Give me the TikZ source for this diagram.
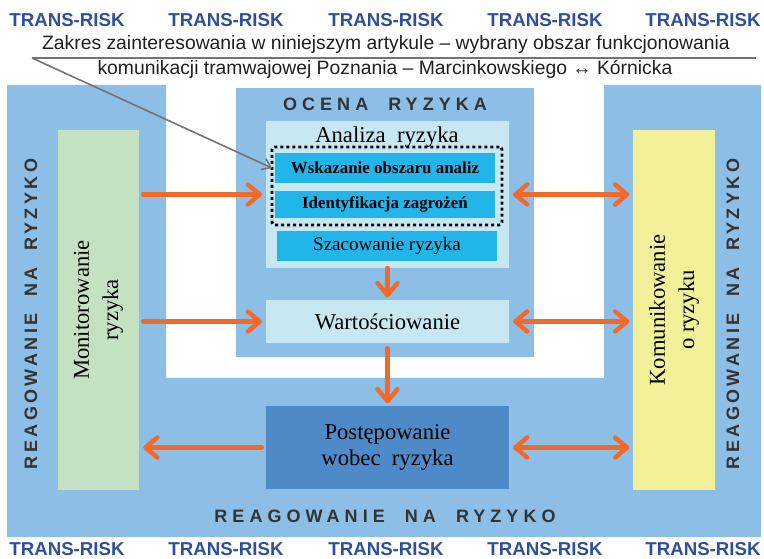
\documentclass[tikz,border=0pt]{standalone}
\usepackage{fontspec}
\setmainfont{Liberation Serif}
\setsansfont{Liberation Sans}
\newfontfamily\spacedfont[LetterSpace=28]{Liberation Sans}
\newfontfamily\spacedsidefont[LetterSpace=19]{Liberation Sans}
\usetikzlibrary{arrows.meta}
\definecolor{outerblue}{HTML}{8DBEE6}
\definecolor{lightcyan}{HTML}{C7E8F2}
\definecolor{brightcyan}{HTML}{22B5EA}
\definecolor{darkblue}{HTML}{4F8AC8}
\definecolor{monitgreen}{HTML}{C4E1C2}
\definecolor{komunyellow}{HTML}{F2F098}
\definecolor{arrorange}{HTML}{F26A2A}
\definecolor{transblue}{HTML}{2E4E9E}
\definecolor{napisgray}{HTML}{333333}
\begin{document}
\begin{tikzpicture}[x=0.75pt, y=-0.75pt,
  every node/.style={inner sep=0pt, outer sep=0pt},
  trans/.style={text=transblue, font=\sffamily\bfseries\fontsize{14}{16}\selectfont},
  opis/.style={text=black!88, font=\sffamily\fontsize{14.5}{17}\selectfont},
  obszar/.style={text=napisgray, font=\spacedfont\bfseries\fontsize{13.5}{16}\selectfont},
  obszarbok/.style={text=napisgray, font=\spacedsidefont\bfseries\fontsize{13.5}{16}\selectfont, rotate=90},
  pole/.style={minimum width=182.25pt},
  krok/.style={fill=brightcyan, minimum width=165pt},
  pion/.style={minimum width=61pt, minimum height=270pt},
  duzy/.style={font=\fontsize{17}{22}\selectfont, align=center},
  strz/.style={draw=arrorange, line width=3.3pt, line cap=round,
    -{Straight Barb[length=9pt, width=15pt, round]}},
  strzz/.style={strz, {Straight Barb[length=9pt, width=15pt, round]}-{Straight Barb[length=9pt, width=15pt, round]}}]
\useasboundingbox (0,0) rectangle (764,559);
% outer area: reagowanie na ryzyko
\fill[outerblue] (7,85) -- (166,85) -- (166,378) -- (604,378) -- (604,85)
  -- (761,85) -- (761,537) -- (7,537) -- cycle;
% header
\foreach \x in {67,226,386,545,703} {
  \node[trans] at (\x,20) {TRANS-RISK};
  \node[trans] at (\x,549) {TRANS-RISK};
}
\node[opis] (zakres1) at (386,45) {Zakres zainteresowania w niniejszym artykule – wybrany obszar funkcjonowania};
\node[opis] (zakres2) at (385,69.5) {komunikacji tramwajowej Poznania – Marcinkowskiego ↔ Kórnicka};
\coordinate (kreskaL) at (32,58);
\coordinate (kreskaP) at (756,58);
\draw[black!55, line width=1.2pt] (kreskaL) -- (kreskaP);
% ocena ryzyka
\node[fill=outerblue, minimum width=223.5pt, minimum height=201.75pt] (ocena) at (385,222.5) {};
\node[obszar] at (385,104) {OCENA\ \ RYZYKA};
\node[pole, fill=lightcyan, minimum height=110.25pt] (analiza) at (387.5,194.5) {};
\node[duzy] at (387,137) {Analiza\ \ ryzyka};
\node[krok, minimum height=22.5pt, font=\bfseries\fontsize{12.7}{15}\selectfont] (wskaz) at (385,168) {Wskazanie obszaru analiz};
\node[krok, minimum height=20.25pt, font=\bfseries\fontsize{12.7}{15}\selectfont] (ident) at (385,204.5) {Identyfikacja zagrożeń};
\node[krok, minimum height=22.5pt, font=\fontsize{14.3}{16}\selectfont] (szac) at (387,246) {Szacowanie ryzyka};
\node[draw, line width=2.2pt, dash pattern=on 2.2pt off 2.3pt, rounded corners=2pt,
  minimum width=172.5pt, minimum height=58.5pt] (zakres) at (387,186) {};
\node[pole, fill=lightcyan, minimum height=32.25pt, duzy] (wart) at (387.5,321.5) {Wartościowanie};
\node[pole, fill=darkblue, minimum height=62.25pt, duzy, font=\fontsize{17}{20}\selectfont] (post) at (387.5,447.5) {Postępowanie\\wobec\ \ ryzyka};
% boki
\node[pion, fill=monitgreen] (monit) at (98.5,310) {};
\node[duzy, rotate=90] at (monit) {Monitorowanie\\ryzyka};
\node[pion, fill=komunyellow] (komun) at (674,310) {};
\node[duzy, rotate=90] at (komun) {Komunikowanie\\o ryzyku};
\node[obszarbok] at (31,314) {REAGOWANIE\ \ NA\ \ RYZYKO};
\node[obszarbok] at (733,314) {REAGOWANIE\ \ NA\ \ RYZYKO};
\node[obszar] at (385,516) {REAGOWANIE\ \ NA\ \ RYZYKO};
% connectors
\draw[black!55, line width=1.2pt, -{Straight Barb[length=6pt, width=9pt]}] (kreskaL) -- (zakres.west |- wskaz);
\draw[strz, shorten <=3pt, shorten >=3pt] (monit.east |- analiza) -- (analiza.west);
\draw[strz, shorten <=3pt, shorten >=3pt] (monit.east |- wart) -- (wart.west);
\draw[strz, shorten <=3pt, shorten >=3pt] (post.west) -- (monit.east |- post);
\draw[strzz, shorten <=3pt, shorten >=3pt] (analiza.east) -- (komun.west |- analiza);
\draw[strzz, shorten <=3pt, shorten >=3pt] (wart.east) -- (komun.west |- wart);
\draw[strzz, shorten <=3pt, shorten >=3pt] (post.east) -- (komun.west |- post);
\draw[strz, shorten >=2pt] (analiza.south) -- (wart.north);
\draw[strz, shorten <=4pt, shorten >=2pt] (wart.south) -- (post.north);
\end{tikzpicture}
\end{document}
